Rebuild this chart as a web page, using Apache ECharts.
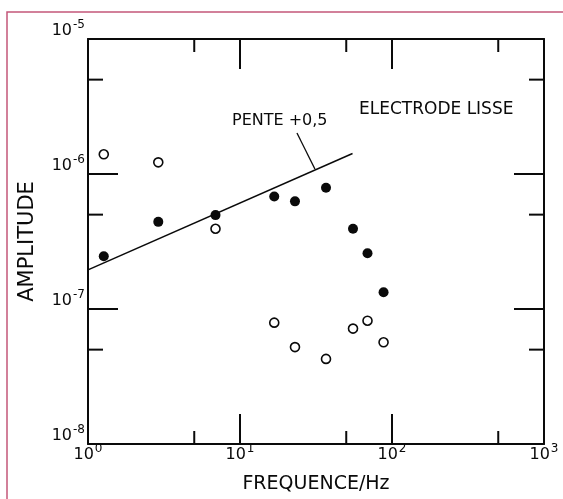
<!DOCTYPE html>
<html>
<head>
<meta charset="utf-8">
<script src="https://cdn.jsdelivr.net/npm/echarts@6/dist/echarts.min.js"></script>
<style>
html,body{margin:0;padding:0;background:#fff;}
#chart{width:563px;height:499px;}
</style>
</head>
<body>
<div id="chart"></div>
<script>
// ---- data ----
var freq = [1.27, 2.9, 6.9, 16.8, 23, 36.8, 55.4, 69, 88];
var ampFilled = [2.46e-7, 4.42e-7, 4.96e-7, 6.81e-7, 6.27e-7, 7.92e-7, 3.93e-7, 2.59e-7, 1.33e-7];
var ampOpen = [1.40e-6, 1.22e-6, 3.93e-7, 7.92e-8, 5.22e-8, 4.27e-8, 7.16e-8, 8.19e-8, 5.67e-8];
var slopeX = [1, 55];
var slopeY = [1.95e-7, 1.42e-6];
var arrowFrom = [23.7, 2.01e-6];
var arrowTo = [31.1, 1.09e-6];
var minorX = [5, 50, 500];
var minorY = [5e-6, 5e-7, 5e-8];
var xRange = [1, 1000];
var yRange = [1e-8, 1e-5];

var INK = '#0a0a0a';
var FONT = 'DejaVu Sans';

function expLabel(v) {
  var e = Math.round(Math.log10(v));
  var s = e < 0 ? '-' + (-e) : String(e);
  return '{b|10}{s|' + s + '}';
}
var richLbl = {
  b: {fontSize: 16, fontFamily: FONT, color: INK, lineHeight: 12, verticalAlign: 'bottom'},
  s: {fontSize: 12, fontFamily: FONT, color: INK, lineHeight: 12, padding: [0, 0, 8, 1], verticalAlign: 'bottom'}
};

function pairs(xs, ys) { return xs.map(function (x, i) { return [x, ys[i]]; }); }

var axisLineStyle = {color: INK, width: 2};
var majorTick = {show: true, inside: true, length: 30, lineStyle: {color: INK, width: 2}};

var option = {
  backgroundColor: '#ffffff',
  animation: false,
  grid: {left: 88, top: 39, right: 19, bottom: 46, containLabel: false},
  xAxis: [
    {
      type: 'log', logBase: 10, min: xRange[0], max: xRange[1], position: 'bottom',
      axisLine: {show: true, lineStyle: axisLineStyle},
      axisTick: majorTick,
      splitLine: {show: false},
      axisLabel: {formatter: expLabel, rich: richLbl, margin: 7},
      name: 'FREQUENCE/Hz', nameLocation: 'middle', nameGap: 31,
      nameTextStyle: {fontFamily: FONT, fontSize: 19, color: INK}
    },
    {
      type: 'log', logBase: 10, min: xRange[0], max: xRange[1], position: 'top',
      axisLine: {show: true, lineStyle: axisLineStyle},
      axisTick: majorTick,
      splitLine: {show: false},
      axisLabel: {show: false}
    }
  ],
  yAxis: [
    {
      type: 'log', logBase: 10, min: yRange[0], max: yRange[1], position: 'left',
      axisLine: {show: true, lineStyle: axisLineStyle},
      axisTick: majorTick,
      splitLine: {show: false},
      axisLabel: {formatter: expLabel, rich: richLbl, margin: 3, verticalAlign: 'bottom'},
      name: 'AMPLITUDE', nameLocation: 'middle', nameGap: 50, nameRotate: 90,
      nameTextStyle: {fontFamily: FONT, fontSize: 21, color: INK}
    },
    {
      type: 'log', logBase: 10, min: yRange[0], max: yRange[1], position: 'right',
      axisLine: {show: true, lineStyle: axisLineStyle},
      axisTick: majorTick,
      splitLine: {show: false},
      axisLabel: {show: false}
    }
  ],
  graphic: [
    {type: 'rect', shape: {x: 7, y: 12, width: 640, height: 620},
     style: {fill: null, stroke: '#c4577a', lineWidth: 1.5}, silent: true, z: 100},
    {type: 'text', x: 359, y: 110,
     style: {text: 'ELECTRODE LISSE', font: '17px "DejaVu Sans"', fill: INK, align: 'left', verticalAlign: 'middle'}},
    {type: 'text', x: 232, y: 121,
     style: {text: 'PENTE +0,5', font: '16px "DejaVu Sans"', fill: INK, align: 'left', verticalAlign: 'middle'}}
  ],
  series: [
    {
      type: 'line', name: 'pente', data: pairs(slopeX, slopeY),
      showSymbol: false, symbol: 'none', lineStyle: {color: INK, width: 1.5},
      markLine: {
        silent: true, symbol: ['none', 'arrow'], symbolSize: [0, 9],
        lineStyle: {color: INK, width: 1.3, type: 'solid'},
        label: {show: false},
        data: [[{coord: arrowFrom}, {coord: arrowTo}]]
      }
    },
    {
      type: 'scatter', name: 'filled', data: pairs(freq, ampFilled),
      symbol: 'circle', symbolSize: 10,
      itemStyle: {color: INK, borderColor: INK, borderWidth: 0, opacity: 1}
    },
    {
      type: 'scatter', name: 'open', data: pairs(freq, ampOpen),
      symbol: 'circle', symbolSize: 9,
      itemStyle: {color: '#ffffff', borderColor: INK, borderWidth: 1.6, opacity: 1}
    },
    {
      type: 'custom', name: 'minorTicksX', xAxisIndex: 0, yAxisIndex: 0,
      data: minorX.map(function (v) { return [v, yRange[0]]; }),
      clip: false, silent: true,
      renderItem: function (params, api) {
        var v = api.value(0);
        var b = api.coord([v, yRange[0]]);
        var t = api.coord([v, yRange[1]]);
        var st = {stroke: INK, lineWidth: 2};
        return {type: 'group', children: [
          {type: 'line', shape: {x1: b[0], y1: b[1], x2: b[0], y2: b[1] - 13}, style: st},
          {type: 'line', shape: {x1: t[0], y1: t[1], x2: t[0], y2: t[1] + 13}, style: st}
        ]};
      }
    },
    {
      type: 'custom', name: 'minorTicksY', xAxisIndex: 0, yAxisIndex: 0,
      data: minorY.map(function (v) { return [xRange[0], v]; }),
      clip: false, silent: true,
      renderItem: function (params, api) {
        var v = api.value(1);
        var l = api.coord([xRange[0], v]);
        var r = api.coord([xRange[1], v]);
        var st = {stroke: INK, lineWidth: 2};
        return {type: 'group', children: [
          {type: 'line', shape: {x1: l[0], y1: l[1], x2: l[0] + 15, y2: l[1]}, style: st},
          {type: 'line', shape: {x1: r[0], y1: r[1], x2: r[0] - 15, y2: r[1]}, style: st}
        ]};
      }
    }
  ]
};

var chart = echarts.init(document.getElementById('chart'), null, {renderer: 'canvas'});
chart.setOption(option);
</script>
</body>
</html>
